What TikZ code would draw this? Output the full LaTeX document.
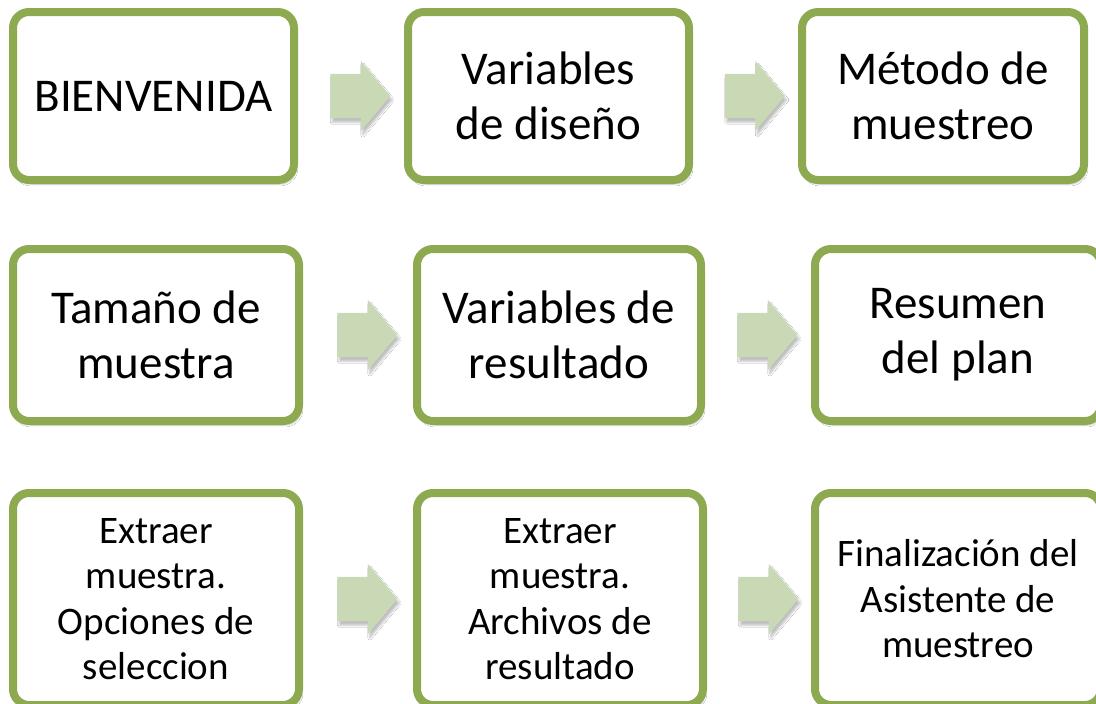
\documentclass[tikz,border=0pt]{standalone}
\usepackage{fontspec}
\setmainfont{Carlito}
\usetikzlibrary{shapes.arrows,shadows.blur,calc}
\definecolor{verde}{RGB}{141,170,80}
\definecolor{verdeclaro}{RGB}{202,217,181}

\begin{document}
\begin{tikzpicture}[x=1pt,y=-1pt,
  sombra/.style={blur shadow={shadow xshift=2pt,shadow yshift=-4pt,shadow opacity=25,shadow blur steps=8}},
  paso/.style={draw=verde,line width=8pt,rounded corners=16pt,fill=white,align=center,inner sep=0pt,sombra},
  grande/.style={paso,font=\fontsize{47}{55}\selectfont},
  chico/.style={paso,font=\fontsize{39}{45.5}\selectfont},
  flecha/.style={single arrow,fill=verdeclaro,inner xsep=0pt,inner ysep=22pt,minimum height=60pt,
    single arrow head extend=13pt,single arrow tip angle=100,sombra}]
\clip (0,0) rectangle (1096,704);
\fill[white] (0,0) rectangle (1096,704);

% fila 1
\node[grande,minimum width=281pt,minimum height=168pt] (bienvenida) at (153.5,96) {BIENVENIDA};
\node[grande,minimum width=281pt,minimum height=168pt] (diseno) at (548.5,96) {Variables\\de diseño};
\node[grande,minimum width=282pt,minimum height=168pt] (metodo) at (943,96) {Método de\\muestreo};

% fila 2
\node[grande,minimum width=286pt,minimum height=172pt] (tamano) at (156,335) {Tamaño de\\muestra};
\node[grande,minimum width=284pt,minimum height=172pt] (resultado) at (559,335) {Variables de\\resultado};
\node[grande,minimum width=286pt,minimum height=172pt] (resumen) at (958,335) {Resumen\\del plan};

% fila 3
\node[chico,minimum width=286pt,minimum height=212pt] (opciones) at (156,599) {Extraer\\muestra.\\Opciones de\\seleccion};
\node[chico,minimum width=286pt,minimum height=212pt] (archivos) at (560,599) {Extraer\\muestra.\\Archivos de\\resultado};
\node[chico,minimum width=286pt,minimum height=212pt] (final) at (958,599) {Finalización del\\Asistente de\\muestreo};

% flechas
\node[flecha] (f1) at ($(bienvenida.east)!0.5!(diseno.west)$) {};
\node[flecha] (f2) at ($(diseno.east)!0.5!(metodo.west)$) {};
\node[flecha] (f3) at ($(tamano.east)!0.5!(resultado.west)$) {};
\node[flecha] (f4) at ($(resultado.east)!0.5!(resumen.west)$) {};
\node[flecha] (f5) at ($(opciones.east)!0.5!(archivos.west)$) {};
\node[flecha] (f6) at ($(archivos.east)!0.5!(final.west)$) {};
\end{tikzpicture}
\end{document}
